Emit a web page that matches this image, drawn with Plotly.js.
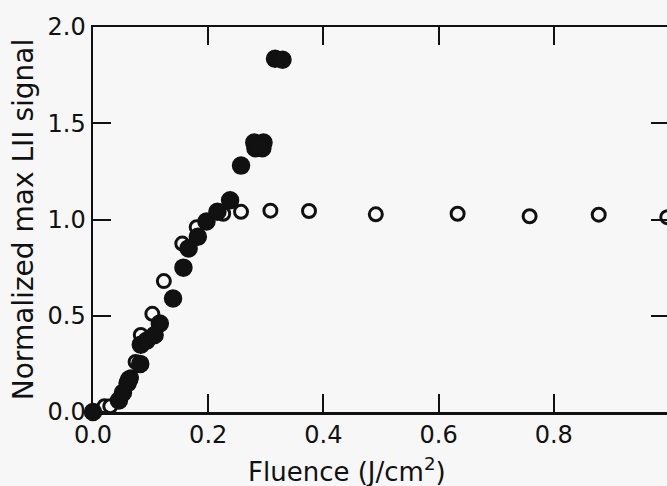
<!DOCTYPE html>
<html>
<head>
<meta charset="utf-8">
<script src="https://cdn.plot.ly/plotly-3.0.1.min.js"></script>
<style>
  html, body { margin: 0; padding: 0; background: #f7f7f7; overflow: hidden; }
  #chart { width: 680px; height: 486px; }
</style>
</head>
<body>
<div id="chart"></div>
<script>
// Max LII signal (normalized) versus laser fluence, two data sets
const openFluence = [0.020, 0.030, 0.066, 0.074, 0.083, 0.103, 0.123, 0.155, 0.180, 0.226,
                     0.257, 0.308, 0.375, 0.491, 0.633, 0.758, 0.878, 0.997];
const openSignal  = [0.03, 0.03, 0.18, 0.26, 0.40, 0.51, 0.68, 0.875, 0.96, 1.03,
                     1.04, 1.046, 1.044, 1.027, 1.030, 1.017, 1.025, 1.012];

const filledFluence = [0.000, 0.045, 0.052, 0.060, 0.063, 0.082, 0.083, 0.093, 0.107, 0.116,
                       0.139, 0.157, 0.166, 0.182, 0.197, 0.216, 0.238, 0.257,
                       0.280, 0.296, 0.282, 0.294, 0.288, 0.316, 0.329];
const filledSignal  = [0.00, 0.06, 0.10, 0.15, 0.17, 0.25, 0.35, 0.37, 0.40, 0.46,
                       0.59, 0.75, 0.85, 0.91, 0.99, 1.04, 1.10, 1.28,
                       1.40, 1.40, 1.37, 1.37, 1.385, 1.835, 1.83];

const xTicks = [0, 0.2, 0.4, 0.6, 0.8];
const yTicks = [0, 0.5, 1.0, 1.5, 2.0];

const ink = '#111111';
const bg = '#f7f7f7';
const fontFamily = '"DejaVu Sans", "Liberation Sans", Arial, sans-serif';

const traces = [
  {
    x: openFluence, y: openSignal, type: 'scatter', mode: 'markers', cliponaxis: false,
    marker: { symbol: 'circle', size: 13, color: bg, line: { color: ink, width: 3 } },
    hoverinfo: 'x+y'
  },
  {
    x: filledFluence, y: filledSignal, type: 'scatter', mode: 'markers', cliponaxis: false,
    marker: { symbol: 'circle', size: 17, color: ink, line: { color: ink, width: 1.5 } },
    hoverinfo: 'x+y'
  }
];

const layout = {
  width: 680, height: 486,
  margin: { l: 93, r: 11, t: 27, b: 74 },
  paper_bgcolor: bg, plot_bgcolor: bg,
  showlegend: false,
  font: { family: fontFamily, color: ink, size: 24 },
  xaxis: {
    range: [0, 1.0],
    tickvals: xTicks, ticktext: xTicks.map(v => v.toFixed(1)),
    ticks: 'inside', ticklen: 18, tickwidth: 2, tickcolor: ink,
    showline: true, linecolor: ink, linewidth: 2.5, mirror: 'ticks',
    showgrid: false, zeroline: false,
    tickfont: { family: fontFamily, size: 24, color: ink }
  },
  yaxis: {
    range: [0, 2.0],
    tickvals: yTicks, ticktext: yTicks.map(v => v.toFixed(1)),
    ticks: 'inside', ticklen: 18, tickwidth: 2, tickcolor: ink,
    showline: true, linecolor: ink, linewidth: 2.5, mirror: 'ticks',
    showgrid: false, zeroline: false,
    tickfont: { family: fontFamily, size: 24, color: ink },
    title: { text: 'Normalized max LII signal', font: { family: fontFamily, size: 28, color: ink }, standoff: 6 }
  },
  annotations: [
    {
      text: 'Fluence (J/cm<sup>2</sup>)',
      xref: 'paper', yref: 'paper',
      x: 0.441, y: -0.15, xanchor: 'center', yanchor: 'middle',
      showarrow: false,
      font: { family: fontFamily, size: 26, color: ink }
    }
  ]
};

Plotly.newPlot('chart', traces, layout, { staticPlot: true, displayModeBar: false });
</script>
</body>
</html>
